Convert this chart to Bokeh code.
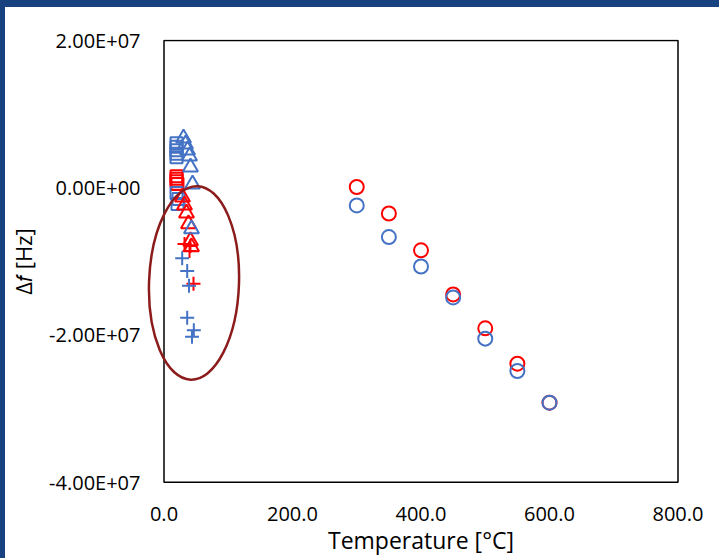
from bokeh.plotting import figure
from bokeh.layouts import column
from bokeh.models import FixedTicker
from bokeh.embed import file_html
from bokeh.resources import INLINE

# ---- data ----
circle_temp = [300, 350, 400, 450, 500, 550, 600]
red_circle_df = [0.1e6, -3.5e6, -8.5e6, -1.45e7, -1.91e7, -2.39e7, -2.92e7]
blue_circle_df = [-2.4e6, -6.7e6, -1.07e7, -1.49e7, -2.05e7, -2.49e7, -2.92e7]

blue_square_temp = [19.5, 19.5, 19.5, 19.5, 19.5, 19.5, 22.6, 21.0]
blue_square_df = [6.04e6, 5.57e6, 5.09e6, 4.62e6, 4.15e6, -0.73e6, -1.54e6, -2.22e6]
red_square_temp = [19.5, 19.5, 19.5, 21.0]
red_square_df = [1.57e6, 1.23e6, 0.89e6, 0.49e6]

blue_tri_temp = [30.4, 33.5, 36.6, 39.7, 41.2, 44.4, 42.8]
blue_tri_df = [6.72e6, 5.91e6, 5.09e6, 4.28e6, 2.79e6, 0.49e6, -5.61e6]
red_tri_temp = [28.8, 31.9, 35.0, 38.1, 41.2, 42.8]
red_tri_df = [-1.27e6, -2.36e6, -3.44e6, -4.93e6, -7.24e6, -8.05e6]

blue_plus_temp = [28.3, 36.1, 38.9, 36.1, 46.4, 43.6]
blue_plus_df = [-9.58e6, -1.13e7, -1.33e7, -1.767e7, -1.937e7, -2.024e7]
red_plus_temp = [31.9, 41.2, 39.7, 45.9]
red_plus_df = [-7.64e6, -7.91e6, -8.59e6, -1.306e7]

# highlight ellipse (data units)
ellipse_x = [46.7]
ellipse_y = [-1.293e7]
ellipse_w = [140.0]
ellipse_h = [2.63e7]

x_ticks = [0, 200, 400, 600, 800]
x_tick_labels = ["0.0", "200.0", "400.0", "600.0", "800.0"]
y_ticks = [-4e7, -2e7, 0, 2e7]
y_tick_labels = ["-4.00E+07", "-2.00E+07", "0.00E+00", "2.00E+07"]

BLUE = "#4472C4"
RED = "#FF0000"
FONT = "Open Sans"

# the visible plot box spans the tick range; the canvas frame is a little wider
# (equally on both sides) so the highlight ellipse can cross the box edge unclipped
p = figure(width=714, height=551, x_range=(-28.8, 828.8), y_range=(-4.018e7, 2.0136e7),
           output_backend="svg", toolbar_location=None,
           min_border_left=140, min_border_right=23, min_border_top=32, min_border_bottom=74,
           styles={"background-color": "white"})
p.margin = (7, 0, 0, 5)
p.background_fill_color = "white"
p.border_fill_color = "white"
p.outline_line_color = None
p.grid.visible = False

for ax in (p.xaxis[0], p.yaxis[0]):
    ax.axis_line_color = None
    ax.major_tick_line_color = None
    ax.minor_tick_line_color = None
    ax.major_tick_in = 0
    ax.major_tick_out = 0
    ax.minor_tick_in = 0
    ax.minor_tick_out = 0
    ax.major_label_text_font = FONT
    ax.major_label_text_font_size = "20px"
    ax.major_label_text_color = "black"
    ax.axis_label_text_font = FONT
    ax.axis_label_text_font_style = "normal"
    ax.axis_label_text_color = "black"

p.xaxis.axis_label_text_font_size = "23px"
p.yaxis.axis_label_text_font_size = "22px"
p.xaxis.ticker = FixedTicker(ticks=x_ticks)
p.xaxis.major_label_overrides = dict(zip(x_ticks, x_tick_labels))
p.yaxis.ticker = FixedTicker(ticks=y_ticks)
p.yaxis.major_label_overrides = dict(zip(y_ticks, y_tick_labels))
p.xaxis.major_label_standoff = 23
p.yaxis.major_label_standoff = 5
p.xaxis.axis_label = "Temperature [°C]"
p.yaxis.axis_label = "Δ𝑓 [Hz]"
p.xaxis.axis_label_standoff = 0
p.yaxis.axis_label_standoff = 8

# plot-area box
p.quad(left=[x_ticks[0]], right=[x_ticks[-1]], bottom=[y_ticks[0]], top=[y_ticks[-1]],
       fill_color=None, line_color="black", line_width=1.5)

# red series first, blue on top
p.scatter(circle_temp, red_circle_df, marker="circle", size=14, fill_color=None,
          line_color=RED, line_width=2)
p.scatter(circle_temp, blue_circle_df, marker="circle", size=14, fill_color=None,
          line_color=BLUE, line_width=2)
p.scatter(red_square_temp, red_square_df, marker="square", size=12, fill_color=None,
          line_color=RED, line_width=2)
p.scatter(blue_square_temp, blue_square_df, marker="square", size=12, fill_color=None,
          line_color=BLUE, line_width=2)
p.scatter(red_tri_temp, red_tri_df, marker="triangle", size=15, fill_color=None,
          line_color=RED, line_width=2)
p.scatter(blue_tri_temp, blue_tri_df, marker="triangle", size=15, fill_color=None,
          line_color=BLUE, line_width=2)
p.scatter(red_plus_temp, red_plus_df, marker="cross", size=14,
          line_color=RED, line_width=2)
p.scatter(blue_plus_temp, blue_plus_df, marker="cross", size=14,
          line_color=BLUE, line_width=2)

p.ellipse(x=ellipse_x, y=ellipse_y, width=ellipse_w, height=ellipse_h, angle=-0.035,
          fill_color=None, line_color="#8C1C1C", line_width=2.5)

page = column(p, width=719, height=558, styles={"background-color": "#17417F"})

open("out.html", "w").write(file_html(page, INLINE))
